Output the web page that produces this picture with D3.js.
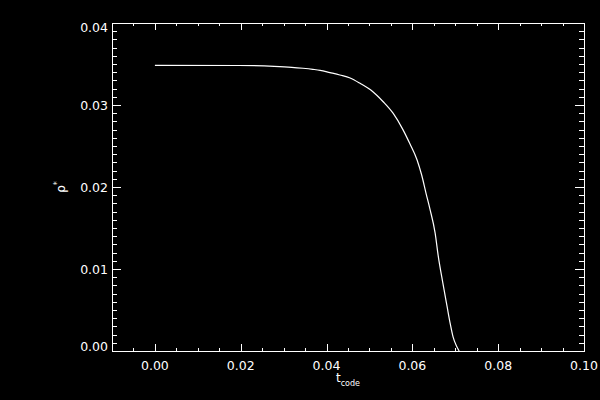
<!DOCTYPE html>
<html>
<head>
<meta charset="utf-8">
<script src="https://cdn.jsdelivr.net/npm/d3@7"></script>
<style>
  html, body { margin: 0; padding: 0; background: #000; }
  svg { display: block; }
  text { fill: #fff; font-family: "DejaVu Sans", sans-serif; }
</style>
</head>
<body>
<div id="chart"></div>
<script>
(function() {

  var width = 600,
      height = 400;

  var margin = {top: 23, right: 16, bottom: 49, left: 112};

  // curve: time (code units) vs density
  var tCode = [0.000, 0.0196, 0.0278, 0.0319, 0.0345, 0.0368, 0.0385, 0.0408, 0.0431, 0.0455,
               0.0478, 0.0508, 0.0532, 0.0555, 0.0578, 0.0594, 0.0611, 0.0622, 0.0632, 0.0641,
               0.0653, 0.0660, 0.0671, 0.0681, 0.0688, 0.0695, 0.0704, 0.0709];
  var rho = [0.03484, 0.03482, 0.03472, 0.03460, 0.03448, 0.03435, 0.03423, 0.03395, 0.03366, 0.03330,
             0.03265, 0.03162, 0.03040, 0.02900, 0.02700, 0.02530, 0.02330, 0.02140, 0.01920, 0.01730,
             0.01440, 0.01170, 0.00830, 0.00540, 0.00340, 0.00170, 0.00050, 0.00000];

  var xDomain = [-0.01, 0.10],
      yDomain = [0, 0.04];
  var xMajor = [0.00, 0.02, 0.04, 0.06, 0.08, 0.10],
      yMajor = [0.00, 0.01, 0.02, 0.03, 0.04];
  var xMinorStep = 0.005,
      yMinorStep = 0.001;

  var x0 = margin.left, x1 = width - margin.right,
      y0 = height - margin.bottom, y1 = margin.top;

  var x = d3.scaleLinear().domain(xDomain).range([x0, x1]);
  var y = d3.scaleLinear().domain(yDomain).range([y0, y1]);

  var svg = d3.select("#chart").append("svg")
      .attr("width", width)
      .attr("height", height);

  svg.append("rect")
      .attr("width", width)
      .attr("height", height)
      .attr("fill", "#000");

  var xMinor = d3.range(Math.round((xDomain[1] - xDomain[0]) / xMinorStep) + 1)
      .map(i => xDomain[0] + i * xMinorStep);
  var yMinor = d3.range(Math.round((yDomain[1] - yDomain[0]) / yMinorStep) + 1)
      .map(i => yDomain[0] + i * yMinorStep);

  var fmt = d3.format(".2f");

  var axes = svg.append("g").attr("class", "axes").attr("shape-rendering", "crispEdges");

  // ticks on all four sides, IDL style
  function tickLines(g, vals, len, orient) {
    g.selectAll("line.t" + orient + len)
        .data(vals)
      .enter().append("line")
        .attr("stroke", "#fff")
        .attr("stroke-width", 1)
        .each(function(d) {
          var s = d3.select(this);
          if (orient == "b") s.attr("x1", Math.round(x(d)) + 0.5).attr("x2", Math.round(x(d)) + 0.5).attr("y1", y0).attr("y2", y0 - len);
          if (orient == "t") s.attr("x1", Math.round(x(d)) + 0.5).attr("x2", Math.round(x(d)) + 0.5).attr("y1", y1).attr("y2", y1 + len);
          if (orient == "l") s.attr("y1", Math.round(y(d)) + 0.5).attr("y2", Math.round(y(d)) + 0.5).attr("x1", x0).attr("x2", x0 + len);
          if (orient == "r") s.attr("y1", Math.round(y(d)) + 0.5).attr("y2", Math.round(y(d)) + 0.5).attr("x1", x1).attr("x2", x1 - len);
        });
  }

  var isMajorX = d => xMajor.some(m => Math.abs(m - d) < 1e-9);
  var isMajorY = d => yMajor.some(m => Math.abs(m - d) < 1e-9);

  tickLines(axes, xMinor.filter(d => !isMajorX(d)), 3, "b");
  tickLines(axes, xMajor, 7, "b");
  tickLines(axes, xMinor.filter(d => !isMajorX(d)), 3, "t");
  tickLines(axes, xMajor, 7, "t");
  tickLines(axes, yMinor.filter(d => !isMajorY(d)), 5, "l");
  tickLines(axes, yMajor, 9, "l");
  tickLines(axes, yMinor.filter(d => !isMajorY(d)), 5, "r");
  tickLines(axes, yMajor, 9, "r");

  axes.append("rect")
      .attr("x", x0 + 0.5)
      .attr("y", y1 + 0.5)
      .attr("width", x1 - x0)
      .attr("height", y0 - y1)
      .attr("fill", "none")
      .attr("stroke", "#fff")
      .attr("stroke-width", 1);

  // tick labels
  svg.append("g").selectAll("text")
      .data(xMajor)
    .enter().append("text")
      .attr("x", d => x(d))
      .attr("y", y0 + 18.5)
      .attr("text-anchor", "middle")
      .style("font-size", "12.5px")
      .text(fmt);

  svg.append("g").selectAll("text")
      .data(yMajor)
    .enter().append("text")
      .attr("x", x0 - 4)
      .attr("y", d => Math.max(y1 + 9, Math.min(y0, y(d) + 5)))
      .attr("text-anchor", "end")
      .style("font-size", "12.5px")
      .text(fmt);

  // axis titles
  var xt = svg.append("text")
      .attr("x", (x0 + x1) / 2)
      .attr("y", 382)
      .attr("text-anchor", "middle")
      .style("font-size", "12px");
  xt.append("tspan").text("t");
  xt.append("tspan").attr("dy", 4).style("font-size", "8px").text("code");

  var yt = svg.append("text")
      .attr("transform", "translate(65," + ((y0 + y1) / 2) + ") rotate(-90)")
      .attr("text-anchor", "middle")
      .style("font-size", "12px");
  yt.append("tspan").text("ρ");
  yt.append("tspan").attr("dy", -5).style("font-size", "8px").text("*");

  // the curve
  var line = d3.line()
      .curve(d3.curveMonotoneX)
      .x(d => x(d[0]))
      .y(d => y(d[1]));

  svg.append("path")
      .datum(d3.zip(tCode, rho))
      .attr("d", line)
      .attr("fill", "none")
      .attr("stroke", "#fff")
      .attr("stroke-width", 1.2);

})();
</script>
</body>
</html>
